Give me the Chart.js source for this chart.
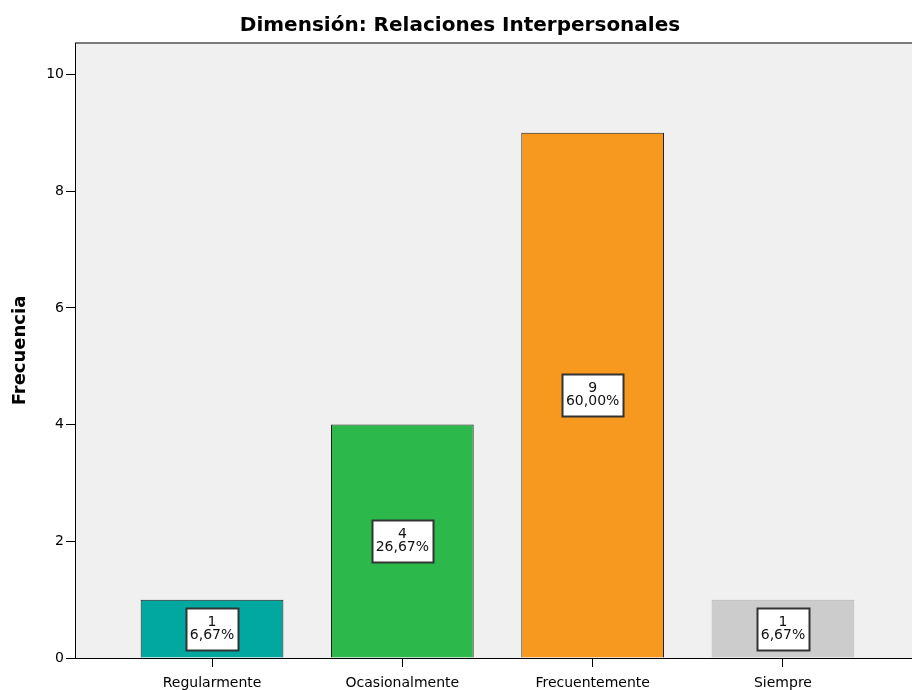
<!DOCTYPE html>
<html>
<head>
<meta charset="utf-8">
<script src="https://cdn.jsdelivr.net/npm/chart.js@4.4.0/dist/chart.umd.min.js"></script>
<style>
  html, body { margin: 0; padding: 0; background: #fff; overflow: hidden; }
  #wrap { width: 920px; height: 690px; }
</style>
</head>
<body>
<div id="wrap"><canvas id="chart"></canvas></div>
<script>
// data
const categories = ['Regularmente', 'Ocasionalmente', 'Frecuentemente', 'Siempre'];
const frecuencias = [1, 4, 9, 1];
const porcentajes = ['6,67%', '26,67%', '60,00%', '6,67%'];
const barColors = ['#00a8a0', '#2db84b', '#f7991f', '#cccccc'];
const barBorders = ['#1e1e1e', '#1e1e1e', '#1e1e1e', '#b4b4b4'];
const yTicks = [0, 2, 4, 6, 8, 10];

const FONT = '"DejaVu Sans", sans-serif';

// plot background and top border
const plotBg = {
    id: 'plotBg',
    beforeDraw(chart) {
        const { ctx, chartArea: a } = chart;
        ctx.save();
        ctx.fillStyle = '#f0f0f0';
        ctx.fillRect(a.left, a.top, a.right - a.left, a.bottom - a.top);
        ctx.strokeStyle = '#7a7a7a';
        ctx.lineWidth = 2;
        ctx.beginPath();
        ctx.moveTo(a.left, a.top);
        ctx.lineTo(a.right, a.top);
        ctx.stroke();
        ctx.restore();
    }
};

// white boxes with count and percentage in middle of each bar
const boxLabels = {
    id: 'boxLabels',
    afterDatasetsDraw(chart) {
        const { ctx } = chart;
        const meta = chart.getDatasetMeta(0);
        ctx.save();
        ctx.font = '14px ' + FONT;
        ctx.textAlign = 'center';
        ctx.textBaseline = 'middle';
        meta.data.forEach((bar, i) => {
            const cx = bar.x;
            const cy = (bar.y + bar.base) / 2;
            const line1 = String(frecuencias[i]);
            const line2 = porcentajes[i];
            const w = Math.round(Math.max(ctx.measureText(line1).width, ctx.measureText(line2).width) + 8);
            const h = 42;
            const x0 = Math.round(cx - w / 2) + 0.5;
            const y0 = Math.round(cy - h / 2) + 0.5;
            ctx.fillStyle = '#ffffff';
            ctx.fillRect(x0, y0, w, h);
            ctx.strokeStyle = '#333333';
            ctx.lineWidth = 2;
            ctx.strokeRect(x0, y0, w, h);
            ctx.fillStyle = '#111111';
            ctx.fillText(line1, cx, cy - 6.5);
            ctx.fillText(line2, cx, cy + 6.5);
        });
        ctx.restore();
    }
};

new Chart(document.getElementById('chart'), {
    type: 'bar',
    data: {
        datasets: [{
            data: frecuencias.map((v, i) => ({ x: i, y: v })),
            backgroundColor: barColors,
            borderColor: barBorders,
            borderWidth: 1,
            barPercentage: 0.75,
            categoryPercentage: 1
        }]
    },
    options: {
        responsive: true,
        maintainAspectRatio: false,
        animation: false,
        layout: { padding: 0 },
        plugins: {
            legend: { display: false },
            tooltip: { enabled: false },
            title: {
                display: true,
                text: 'Dimensión: Relaciones Interpersonales',
                color: '#000',
                font: { family: FONT, size: 20, weight: 'bold' },
                padding: { top: 14, bottom: 5 }
            }
        },
        scales: {
            x: {
                type: 'linear',
                min: -0.72,
                max: 3.72,
                offset: false,
                afterBuildTicks(scale) {
                    scale.ticks = categories.map((c, i) => ({ value: i }));
                },
                afterFit(scale) {
                    scale.height = 32;
                },
                ticks: {
                    color: '#000',
                    font: { family: FONT, size: 14 },
                    padding: 8,
                    maxRotation: 0,
                    callback: (v) => categories[v]
                },
                grid: { display: true, offset: false, drawOnChartArea: false, color: '#000', tickLength: 9 },
                border: { display: true, color: '#000', width: 1 }
            },
            y: {
                min: 0,
                max: 10.54,
                afterBuildTicks(scale) {
                    scale.ticks = yTicks.map(v => ({ value: v }));
                },
                afterFit(scale) {
                    scale.width = 75;
                },
                ticks: {
                    color: '#000',
                    font: { family: FONT, size: 14 },
                    padding: 2
                },
                title: {
                    display: true,
                    text: 'Frecuencia',
                    color: '#000',
                    font: { family: FONT, size: 18, weight: 'bold' },
                    padding: { top: 10, bottom: 0 }
                },
                grid: { display: true, drawOnChartArea: false, color: '#000', tickLength: 9 },
                border: { display: true, color: '#000', width: 1 }
            }
        }
    },
    plugins: [plotBg, boxLabels]
});
</script>
</body>
</html>
